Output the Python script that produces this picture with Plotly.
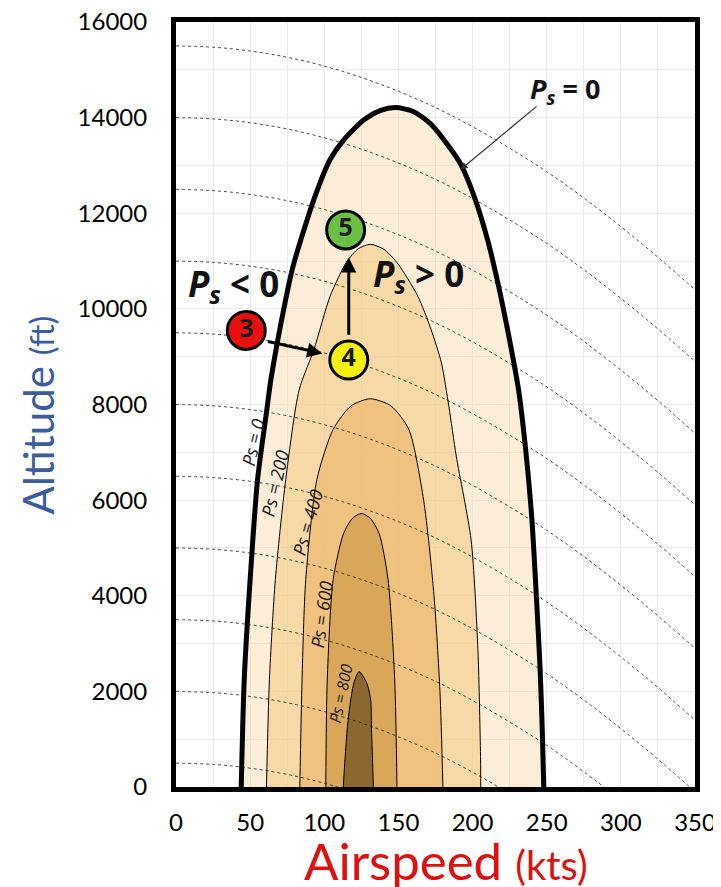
import plotly.graph_objects as go

# Ps contours (airspeed kts, altitude ft)
ps0_x = [44, 46, 50, 55, 61, 64, 74, 79, 93, 104, 113, 127, 138, 148, 160, 172, 191, 201, 210, 217, 224, 231, 236, 240, 243, 245.5, 247, 248]
ps0_y = [0, 2240, 4340, 6430, 7830, 8520, 10200, 10900, 12290, 13130, 13530, 13960, 14150, 14210, 14130, 13860, 13080, 12360, 11460, 10550, 9500, 8310, 7000, 5600, 4000, 2500, 1200, 0]

ps200_x = [61, 63, 67, 74, 83, 93, 104, 115, 123, 131, 140, 149, 163, 172, 179, 184, 189, 199, 203.6, 205.4, 205.5]
ps200_y = [0, 2240, 4340, 6430, 8300, 9150, 10270, 10980, 11260, 11350, 11250, 10970, 10270, 9570, 8870, 7960, 6920, 5170, 2870, 565, 0]

ps400_x = [83.5, 85, 87.5, 95, 106, 118, 131, 145, 157, 167, 174, 178, 180]
ps400_y = [0, 2240, 4340, 6430, 7480, 7970, 8120, 7970, 7480, 6000, 4000, 2000, 0]

ps600_x = [101, 102, 106, 113, 119, 125, 131, 137, 143, 147.5, 149]
ps600_y = [0, 2240, 4340, 5300, 5620, 5720, 5620, 5300, 4340, 2240, 0]

ps800_x = [112.8, 114, 115.6, 117.8, 120, 123.4, 128.6, 131.3, 131.8, 132.5, 133.1]
ps800_y = [0, 600, 1260, 1820, 2180, 2415, 2180, 1820, 1260, 600, 0]

# energy height lines: altitude at zero airspeed, and altitude loss vs airspeed
energy_levels = [500, 2000, 3500, 5000, 6500, 8000, 9500, 11000, 12500, 14000, 15500]
speed_grid = [0, 25, 50, 75, 100, 125, 150, 175, 200, 225, 250, 275, 300, 325, 350]
height_drop = [0, 27, 106, 237, 422, 660, 950, 1290, 1690, 2140, 2630, 3180, 3780, 4420, 5100]

# points 3 -> 4 -> 5
pt_labels = ["3", "4", "5"]
pt_x = [47.4, 116.5, 114.4]
pt_y = [9550, 8930, 11650]
pt_colors = ["#e8100f", "#f4f00c", "#6cbf45"]

FONT = "Open Sans"

fig = go.Figure()

fills = [
    (ps0_x, ps0_y, "rgba(249,215,168,0.45)", 5),
    (ps200_x, ps200_y, "rgba(244,203,136,0.6)", 1),
    (ps400_x, ps400_y, "rgba(234,179,101,0.6)", 1),
    (ps600_x, ps600_y, "rgba(200,149,65,0.6)", 1),
    (ps800_x, ps800_y, "rgba(121,88,37,0.8)", 1),
]
for xs, ys, col, lw in fills:
    fig.add_trace(go.Scatter(
        x=xs, y=ys, mode="lines", fill="toself", fillcolor=col,
        line=dict(color="black", width=lw, shape="spline", smoothing=0.7),
        hoverinfo="skip", showlegend=False))

for e in energy_levels:
    fig.add_trace(go.Scatter(
        x=speed_grid, y=[e - d for d in height_drop], mode="lines",
        line=dict(color="rgba(30,30,30,0.8)", width=1, dash="dot", shape="spline"),
        hoverinfo="skip", showlegend=False))

fig.add_trace(go.Scatter(
    x=pt_x, y=pt_y, mode="markers+text", text=["<b>%s</b>" % t for t in pt_labels],
    textposition="middle center", textfont=dict(family=FONT, size=25, color="#1a1a1a"),
    marker=dict(size=38, color=pt_colors, line=dict(color="black", width=3)),
    hoverinfo="skip", showlegend=False))

# arrows between points
fig.add_annotation(x=98.6, y=9068, ax=61, ay=9326, xref="x", yref="y", axref="x", ayref="y",
                   text="", showarrow=True, arrowhead=2, arrowsize=1, arrowwidth=3, arrowcolor="black")
fig.add_annotation(x=116.5, y=11072, ax=116.5, ay=9430, xref="x", yref="y", axref="x", ayref="y",
                   text="", showarrow=True, arrowhead=2, arrowsize=1, arrowwidth=3, arrowcolor="black")
# Ps = 0 callout
fig.add_annotation(x=191.8, y=12911, ax=244.2, ay=14262, xref="x", yref="y", axref="x", ayref="y",
                   text="", showarrow=True, arrowhead=2, arrowsize=1.2, arrowwidth=1.2, arrowcolor="#333")
fig.add_annotation(x=262, y=14560, text="<b><i>P</i><sub><i>s</i></sub> = 0</b>", showarrow=False,
                   font=dict(family=FONT, size=27, color="#111"))
fig.add_annotation(x=39, y=10480, text="<b><i>P</i><sub><i>s</i></sub> &lt; 0</b>", showarrow=False,
                   font=dict(family=FONT, size=35, color="#111"))
fig.add_annotation(x=163.5, y=10700, text="<b><i>P</i><sub><i>s</i></sub> &gt; 0</b>", showarrow=False,
                   font=dict(family=FONT, size=35, color="#111"))

# contour labels
ps_labels = ["Ps = 0", "Ps = 200", "Ps = 400", "Ps = 600", "Ps = 800"]
lab_x = [52, 66.3, 88.9, 98, 111]
lab_y = [7215, 6345, 5535, 3602, 1948]
lab_ang = [-77, -77, -74, -82, -78]
lab_size = [18, 18, 18, 18, 16]
for t, x, y, a, s in zip(ps_labels, lab_x, lab_y, lab_ang, lab_size):
    fig.add_annotation(x=x, y=y, text="<i>%s</i>" % t, textangle=a, showarrow=False,
                       font=dict(family=FONT, size=s, color="#1a1a1a"))

# axis titles
fig.add_annotation(xref="paper", yref="paper", x=-0.266, y=0.487, xanchor="center", yanchor="middle",
                   textangle=-90, showarrow=False,
                   text="Altitude <span style='font-size:33px'>(ft)</span>",
                   font=dict(family="Lato", size=42, color="#3c5d9c"))
fig.add_annotation(xref="paper", yref="paper", x=0.521, y=-0.096, xanchor="center", yanchor="middle",
                   showarrow=False,
                   text="Airspeed <span style='font-size:40px'>(kts)</span>",
                   font=dict(family="Lato", size=51, color="#e01010"))

fig.update_xaxes(range=[0, 350], dtick=50, showgrid=True, gridcolor="#ebebeb", gridwidth=1,
                 minor=dict(dtick=25, showgrid=True, gridcolor="#ebebeb"),
                 showline=True, linecolor="black", linewidth=5, mirror=True, automargin=False,
                 zeroline=False, ticks="", ticklabelstandoff=10, ticklabeloverflow="allow",
                 tickfont=dict(family="Lato", size=24, color="black"))
fig.update_yaxes(range=[0, 16000], dtick=2000, tickformat="d", showgrid=True, gridcolor="#ebebeb", gridwidth=1,
                 minor=dict(dtick=1000, showgrid=True, gridcolor="#ebebeb"),
                 showline=True, linecolor="black", linewidth=5, mirror=True, automargin=False,
                 zeroline=False, ticks="", ticklabelstandoff=19, ticklabeloverflow="allow",
                 tickfont=dict(family="Lato", size=24, color="black"))

# page body adds 8px, so the figure is a bit smaller than the window
fig.update_layout(width=713, height=879, plot_bgcolor="white", paper_bgcolor="white",
                  margin=dict(l=168, r=26, t=14, b=100), showlegend=False)

fig.write_html("out.html")
